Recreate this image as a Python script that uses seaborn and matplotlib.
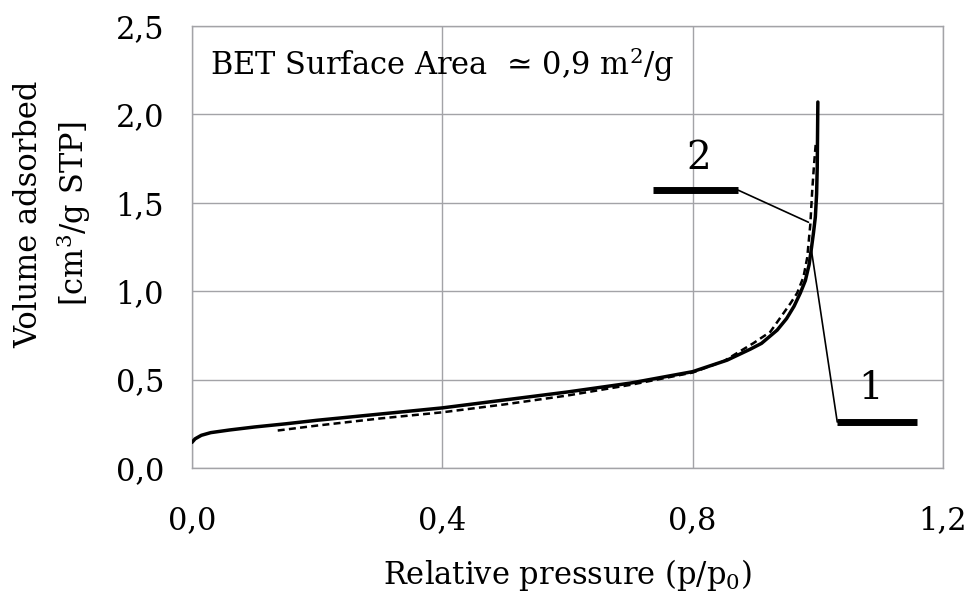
import numpy as np
import pandas as pd
import matplotlib
matplotlib.use("Agg")
import matplotlib.pyplot as plt
import seaborn as sns
from matplotlib.ticker import FuncFormatter

# ---- data ----
ads_p = [0.0, 0.005, 0.015, 0.03, 0.06, 0.1, 0.15, 0.2, 0.3, 0.4, 0.5, 0.6,
         0.7, 0.8, 0.855, 0.892, 0.91, 0.935, 0.95, 0.962, 0.972, 0.98, 0.986,
         0.99, 0.993, 0.996, 0.998, 0.999, 1.0]
ads_v = [0.145, 0.165, 0.185, 0.2, 0.215, 0.232, 0.25, 0.27, 0.305, 0.34, 0.385, 0.43,
         0.48, 0.545, 0.61, 0.672, 0.705, 0.78, 0.845, 0.915, 0.99, 1.06, 1.15,
         1.25, 1.33, 1.42, 1.55, 1.70, 2.07]
des_p = [0.137, 0.2, 0.3, 0.4, 0.5, 0.6, 0.7, 0.8, 0.85, 0.897, 0.924, 0.94,
         0.956, 0.967, 0.977, 0.983, 0.988, 0.991, 0.994, 0.997]
des_v = [0.212, 0.24, 0.28, 0.315, 0.36, 0.41, 0.47, 0.54, 0.605, 0.706, 0.77, 0.85,
         0.93, 0.99, 1.08, 1.19, 1.38, 1.57, 1.72, 1.85]

x_ticks = [0.0, 0.4, 0.8, 1.2]
y_ticks = [0.0, 0.5, 1.0, 1.5, 2.0, 2.5]

callout_labels = ["1", "2"]
callout_text_xy = [(1.084, 0.452), (0.809, 1.75)]
callout_bar = [((1.031, 1.159), 0.26), ((0.737, 0.873), 1.571)]
callout_tip = [(0.989, 1.249), (0.985, 1.39)]
callout_root = [(1.031, 0.26), (0.873, 1.571)]

title_text = "BET Surface Area  \u2243 0,9 m$^2$/g"
x_label = "Relative pressure (p/p$_0$)"
y_label = "Volume adsorbed\n[cm$^3$/g STP]"

# ---- style ----
sns.set_theme(style="white")
plt.rcParams["font.family"] = ["DejaVu Serif"]
plt.rcParams["mathtext.fontset"] = "dejavuserif"
plt.rcParams["mathtext.default"] = "regular"
plt.rcParams["text.color"] = "black"
plt.rcParams["axes.labelcolor"] = "black"

GRID = "#a3a3a7"

df_ads = pd.DataFrame({"p": ads_p, "v": ads_v})
df_des = pd.DataFrame({"p": des_p, "v": des_v})

fig = plt.figure(figsize=(9.72, 5.99), dpi=100)
ax = fig.add_axes([0.1975, 0.2187, 0.7727, 0.7379])

sns.lineplot(data=df_ads, x="p", y="v", ax=ax, color="black", lw=2.5,
             sort=False, estimator=None, zorder=4)
sns.lineplot(data=df_des, x="p", y="v", ax=ax, color="black", lw=1.8,
             sort=False, estimator=None, zorder=3)
ax.lines[-1].set_dashes((2.8, 1.7))

ax.set_xlim(0, 1.2)
ax.set_ylim(0, 2.5)
ax.set_xticks(x_ticks)
ax.set_yticks(y_ticks)
fmt = FuncFormatter(lambda v, pos: f"{v:.1f}".replace(".", ","))
ax.xaxis.set_major_formatter(fmt)
ax.yaxis.set_major_formatter(fmt)

ax.grid(True, color=GRID, lw=1.0)
ax.set_axisbelow(True)
for s in ax.spines.values():
    s.set_visible(True)
    s.set_color(GRID)
    s.set_linewidth(1.0)
ax.tick_params(axis="both", direction="out", length=7, width=1.0, color=GRID,
               labelsize=22, labelcolor="black")
ax.tick_params(axis="x", pad=20)
ax.tick_params(axis="y", pad=13)

ax.set_xlabel(x_label, fontsize=22, labelpad=15)
ax.set_ylabel(y_label, fontsize=22, linespacing=1.32)
ax.yaxis.set_label_coords(-0.185, 0.575)
ax.yaxis.label.set_verticalalignment("center")

ax.text(0.029, 2.28, title_text, fontsize=22, ha="left", va="center")

for lab, (tx, ty), ((bx0, bx1), by), tip, root in zip(
        callout_labels, callout_text_xy, callout_bar, callout_tip, callout_root):
    ax.plot([bx0, bx1], [by, by], color="black", lw=5, solid_capstyle="butt",
            clip_on=False, zorder=5)
    ax.plot([root[0], tip[0]], [root[1], tip[1]], color="black", lw=1.2,
            clip_on=False, zorder=5)
    ax.text(tx, ty, lab, fontsize=28, ha="center", va="center", zorder=6)

fig.savefig("out.png", dpi=100)
